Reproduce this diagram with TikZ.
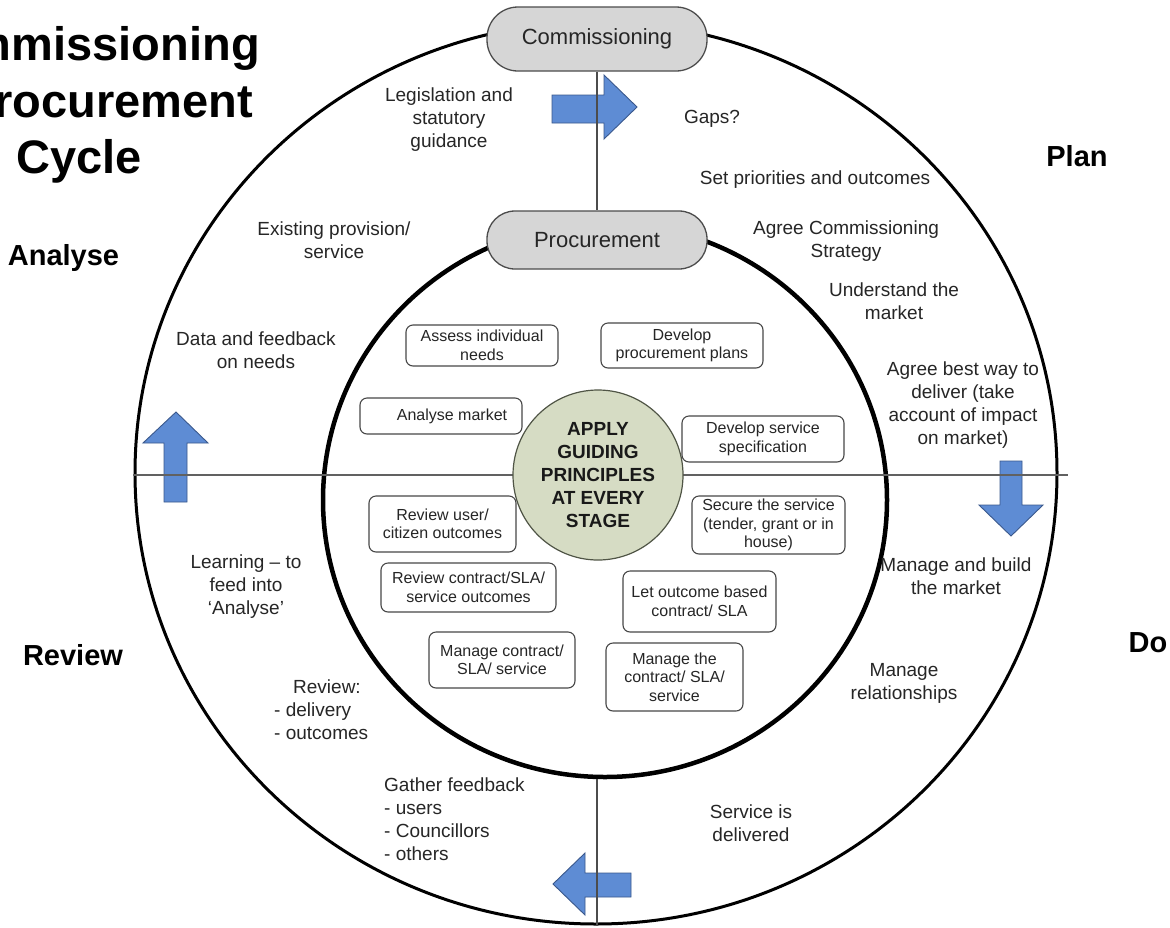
\documentclass[tikz,border=0pt]{standalone}
\usepackage{fontspec}
\setmainfont{Liberation Sans}
\usetikzlibrary{shapes.geometric}
\definecolor{arrowblue}{RGB}{94,140,212}
\definecolor{arrowedge}{RGB}{58,88,140}
\definecolor{pillgray}{RGB}{214,214,214}
\definecolor{sage}{RGB}{214,220,196}
\definecolor{sageedge}{RGB}{80,85,70}
\definecolor{txt}{RGB}{38,38,38}
\begin{document}
\begin{tikzpicture}[x=1pt,y=-1pt,
  ring/.style={draw=black, ellipse, inner sep=0pt},
  pill/.style={draw=black!70, fill=pillgray, line width=1.3pt, font=\fontsize{22}{26}\selectfont, text=txt, inner sep=0pt, minimum width=220pt},
  stagebox/.style={draw=black!72, fill=white, rounded corners=7pt, line width=1.1pt, font=\fontsize{16}{18.5}\selectfont, text=txt, align=center, inner sep=0pt},
  note/.style={font=\fontsize{19}{23}\selectfont, text=txt, align=center, inner sep=0pt},
  phase/.style={font=\fontsize{29}{34}\selectfont\bfseries, anchor=base, inner sep=0pt},
  titleline/.style={font=\fontsize{47}{56}\selectfont\bfseries, anchor=base east, inner sep=0pt},
  bigarrow/.style={fill=arrowblue, draw=arrowedge, line width=0.9pt, line join=miter},
  divider/.style={draw=black!62, line width=2pt},
  spoke/.style={draw=black!70, line width=1.3pt},
]
\useasboundingbox (0,0) rectangle (1170,927);
\fill[white] (0,0) rectangle (1170,927);

% title (runs off the left edge)
\node[titleline] (t1) at (260,60) {Commissioning};
\node[titleline] (t2) at (253,117) {Procurement};
\node[titleline] (t3) at (142,173) {Cycle};

% rings
\node[ring, line width=3pt, minimum width=922pt, minimum height=902pt] (outer) at (596,473) {};
\node[ring, line width=4.5pt, minimum width=564pt, minimum height=554pt] (inner) at (605,500) {};

% block arrows
\draw[bigarrow] (552,95) -- (604,95) -- (604,75) -- (637,107) -- (604,139) -- (604,123) -- (552,123) -- cycle;
\draw[bigarrow] (164,502) -- (164,443) -- (143,443) -- (176,412) -- (208,443) -- (187,443) -- (187,502) -- cycle;
\draw[bigarrow] (1000,461) -- (1022,461) -- (1022,505) -- (1043,505) -- (1011,536) -- (979,505) -- (1000,505) -- cycle;
\draw[bigarrow] (631,873) -- (585,873) -- (585,853) -- (553,884) -- (585,915) -- (585,897) -- (631,897) -- cycle;

% pills
\node[pill, minimum height=64pt, rounded corners=31pt] (comm) at (597,39) {Commissioning};
\node[pill, minimum height=58pt, rounded corners=28pt] (proc) at (597,240) {Procurement};

% dividing lines
\coordinate (hl) at (133,475);
\coordinate (hr) at (1068,475);
\draw[divider] (hl) -- (hr);
\draw[spoke] (comm.south) -- (proc.north);
\draw[spoke] (inner.south -| proc.south) -- (outer.south -| proc.south);

% centre
\node[draw=sageedge, fill=sage, circle, minimum size=170pt, line width=1.2pt, font=\fontsize{19}{23}\selectfont\bfseries, text=black!90, align=center, inner sep=0pt] (core) at (598,475) {APPLY\\GUIDING\\PRINCIPLES\\AT EVERY\\STAGE};

% stage boxes
\node[stagebox, minimum width=152pt, minimum height=41pt] (b1) at (482,345.5) {Assess individual\\needs};
\node[stagebox, minimum width=162pt, minimum height=45pt] (b2) at (682,345.5) {Develop\\procurement plans};
\node[stagebox, minimum width=162pt, minimum height=36pt] (b3) at (441,416) {\hspace*{22pt}Analyse market};
\node[stagebox, minimum width=162pt, minimum height=46pt] (b4) at (763,439) {Develop service\\specification};
\node[stagebox, minimum width=147pt, minimum height=56pt] (b5) at (442.5,524) {Review user/\\citizen outcomes};
\node[stagebox, minimum width=153pt, minimum height=58pt] (b6) at (768.5,525) {Secure the service\\(tender, grant or in\\house)};
\node[stagebox, minimum width=175pt, minimum height=49pt] (b7) at (468.5,587.5) {Review contract/SLA/\\service outcomes};
\node[stagebox, minimum width=153pt, minimum height=61pt] (b8) at (699.5,601.5) {Let outcome based\\contract/ SLA};
\node[stagebox, minimum width=146pt, minimum height=56pt] (b9) at (502,660) {Manage contract/\\SLA/ service};
\node[stagebox, minimum width=137pt, minimum height=68pt] (b10) at (674.5,677) {Manage the\\contract/ SLA/\\service};

% outer ring notes
\node[note] (legis) at (449,120) {Legislation and\\statutory\\guidance};
\node[note] (gaps) at (712,119) {Gaps?};
\node[note] (prio) at (815,180) {Set priorities and outcomes};
\node[note] (exist) at (334,240) {Existing provision/\\service};
\node[note] (strat) at (846,241) {Agree Commissioning\\Strategy};
\node[note] (under) at (894,301) {Understand the\\market};
\node[note] (data) at (256,350) {Data and feedback\\on needs};
\node[note] (best) at (963,405) {Agree best way to\\deliver (take\\account of impact\\on market)};
\node[note] (learn) at (246,587) {Learning – to\\feed into\\‘Analyse’};
\node[note] (build) at (956,576) {Manage and build\\the market};
\node[note, align=left, anchor=west] (revw) at (274,710) {\hspace*{19pt}Review:\\- delivery\\- outcomes};
\node[note] (rel) at (904,683) {Manage\\relationships};
\node[note, align=left, anchor=west] (gath) at (384,819) {Gather feedback\\- users\\- Councillors\\- others};
\node[note] (deliv) at (751,823) {Service is\\delivered};

% phase labels
\node[phase] (analyse) at (63.5,265) {Analyse};
\node[phase] (plan) at (1077,166) {Plan};
\node[phase] (review) at (73,665) {Review};
\node[phase] (do) at (1148,652) {Do};
\end{tikzpicture}
\end{document}
